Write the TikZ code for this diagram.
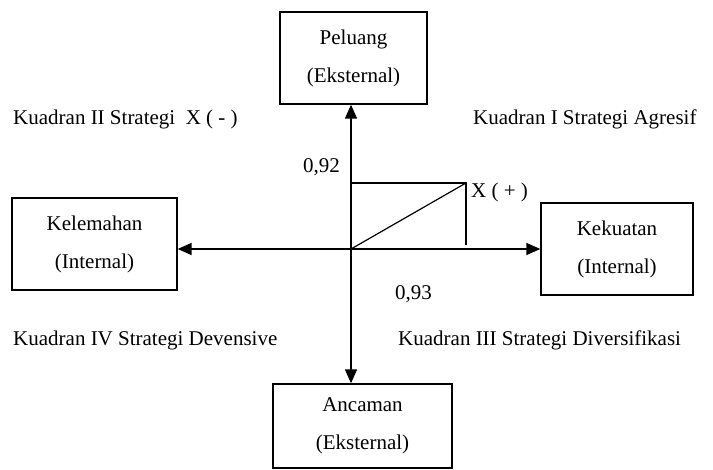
\documentclass[tikz,border=0pt]{standalone}
\usepackage{fontspec}
\setmainfont{Liberation Serif}
\usetikzlibrary{arrows.meta, calc, positioning}
\tikzstyle{line} = [draw, line width=1.4pt, -{Triangle[length=14pt,width=12pt]}]
\tikzstyle{thin} = [draw, line width=1.2pt]
\tikzstyle{block} = [rectangle, draw, line width=1.3pt, text centered, align=center, inner sep=0pt]
\tikzstyle{label} = [anchor=base west, inner sep=0pt]

\begin{document}
\begin{tikzpicture}[x=1pt, y=-1pt, font=\fontsize{21}{38}\selectfont]
\useasboundingbox (0,0) rectangle (713,470);
\node [block, minimum width=147pt, minimum height=92pt] (peluang) at (353.5,58) {Peluang\\(Eksternal)};
\node [block, minimum width=165pt, minimum height=92pt] (kelemahan) at (94.5,244) {Kelemahan\\(Internal)};
\node [block, minimum width=152pt, minimum height=92pt] (kekuatan) at (617,249) {Kekuatan\\(Internal)};
\node [block, minimum width=179pt, minimum height=84pt] (ancaman) at (362.5,426) {Ancaman\\(Eksternal)};
\coordinate (origin) at (351,249);
\coordinate (corner) at (466,183);
% quadrant labels
\node [label] (kuadran2) at (13,125) {Kuadran II Strategi\ \ X ( - )};
\node [label] (kuadran1) at (473,125) {Kuadran I Strategi Agresif};
\node [label] (kuadran4) at (13,346) {Kuadran IV Strategi Devensive};
\node [label] (kuadran3) at (398,346) {Kuadran III Strategi Diversifikasi};
\node [label] (nilaiy) at (303,173) {0,92};
\node [label] (nilaix) at (395,300) {0,93};
\node [label] (titik) at (471,198) {X ( + )};
% axes
\path [line] (origin) -- (origin |- peluang.south);
\path [line] (origin) -- (origin |- ancaman.north);
\path [line] (origin) -- (origin -| kelemahan.east);
\path [line] (origin) -- (origin -| kekuatan.west);
% position
\path [thin] (origin |- corner) -- (corner) -- ($(corner)+(0,62)$);
\path [thin] (origin) -- (corner);
\end{tikzpicture}
\end{document}
